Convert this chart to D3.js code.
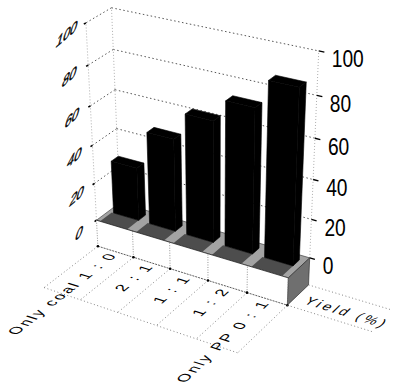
<!DOCTYPE html>
<html>
<head>
<meta charset="utf-8">
<script src="https://cdn.jsdelivr.net/npm/d3@7"></script>
<style>
  body { margin: 0; background: #fff; }
  svg { display: block; }
</style>
</head>
<body>
<svg id="chart" width="396" height="388"></svg>
<script>
// ---- data ----
const categories = ["Only coal 1 : 0", "2 : 1", "1 : 1", "1 : 2", "Only PP 0 : 1"];
const yieldValues = [28, 48, 62, 73, 87];
const zTicks = [0, 20, 40, 60, 80, 100];
const zTitle = "Yield (%)";

// ---- 3D frame ----
// Box units: x across the categories (0..1), y from back wall (0) to front (1),
// z from floor (0) to top (1). Screen positions of reference points of the box
// fix a perspective camera (3x4 projective matrix, least squares).
const boxRefs = [
  [0, 0, 1.0, 110, 9], [0, 0, 0.8, 113, 50], [0, 0, 0.6, 115, 89], [0, 0, 0.4, 117, 128],
  [0, 1, 1.0, 86, 23], [0, 1, 0.8, 88, 64], [0, 1, 0.6, 91, 106], [0, 1, 0.4, 92, 145],
  [0, 1, 0.2, 95, 183], [0, 1, 0.0, 97, 220],
  [1, 0, 1.0, 318, 52], [1, 0, 0.8, 318, 95], [1, 0, 0.6, 316, 138], [1, 0, 0.4, 313, 179],
  [1, 0, 0.2, 313, 219], [1, 1, 0.0, 287, 277],
  [0, 1, -0.145, 98, 247], [0.2, 1, -0.145, 133, 258], [0.4, 1, -0.145, 171, 268],
  [0.6, 1, -0.145, 208, 281], [0.8, 1, -0.145, 247, 293], [1, 1, -0.145, 287, 306],
  [1, 0, -0.145, 307, 285]
];

function solveLinear(M, v) {
  const n = v.length;
  const A = M.map((row, i) => [...row, v[i]]);
  for (let c = 0; c < n; c++) {
    let p = c;
    for (let r = c + 1; r < n; r++) if (Math.abs(A[r][c]) > Math.abs(A[p][c])) p = r;
    [A[c], A[p]] = [A[p], A[c]];
    for (let r = 0; r < n; r++) {
      if (r === c) continue;
      const f = A[r][c] / A[c][c];
      for (let k = c; k <= n; k++) A[r][k] -= f * A[c][k];
    }
  }
  return A.map((row, i) => row[n] / row[i]);
}

function fitCamera(refs) {
  const n = 11;
  const M = Array.from({ length: n }, () => new Array(n).fill(0));
  const v = new Array(n).fill(0);
  refs.forEach(([X, Y, Z, u, w]) => {
    const rows = [
      [[X, Y, Z, 1, 0, 0, 0, 0, -u * X, -u * Y, -u * Z], u],
      [[0, 0, 0, 0, X, Y, Z, 1, -w * X, -w * Y, -w * Z], w]
    ];
    rows.forEach(([r, t]) => {
      for (let i = 0; i < n; i++) {
        v[i] += r[i] * t;
        for (let j = 0; j < n; j++) M[i][j] += r[i] * r[j];
      }
    });
  });
  return solveLinear(M, v);
}

const cam = fitCamera(boxRefs);
function proj(X, Y, Z) {
  const w = cam[8] * X + cam[9] * Y + cam[10] * Z + 1;
  return [
    (cam[0] * X + cam[1] * Y + cam[2] * Z + cam[3]) / w,
    (cam[4] * X + cam[5] * Y + cam[6] * Z + cam[7]) / w
  ];
}

// ---- scales ----
const x = d3.scaleBand().domain(categories).range([0, 1]).paddingInner(0.3).paddingOuter(0.15);
const z = d3.scaleLinear().domain([0, 100]).range([0, 1]);
const step = x.step();
const slotStart = c => x(c) - step * x.paddingOuter();
const zBase = z(-14.5);          // bottom of the floor slab
const barBack = 0.2, barFront = 0.5;

const svg = d3.select("#chart");
const line = d3.line();
const poly = pts => line(pts.map(p => proj(...p))) + "Z";
const seg = (a, b) => line([proj(...a), proj(...b)]);

// text frame: baseline along direction base, glyph "up" along direction up (screen unit vectors)
function unit(p, q) {
  const dx = q[0] - p[0], dy = q[1] - p[1], L = Math.hypot(dx, dy);
  return [dx / L, dy / L];
}
function frame(pos, base, up, sx = 1) {
  return `matrix(${base[0] * sx},${base[1] * sx},${-up[0]},${-up[1]},${pos[0]},${pos[1]})`;
}

// ---- walls: gridlines and edges ----
const walls = svg.append("g");
zTicks.filter(t => t > 0).forEach(t => {
  const zz = z(t);
  walls.append("path").attr("d", seg([0, 0, zz], [1, 0, zz]))
    .attr("stroke", "#444").attr("stroke-width", 0.9).attr("stroke-dasharray", "1.5,2.5").attr("fill", "none");
  walls.append("path").attr("d", seg([0, 0, zz], [0, 1, zz]))
    .attr("stroke", "#444").attr("stroke-width", 0.9).attr("stroke-dasharray", "1.5,2.5").attr("fill", "none");
});
[[0, 0], [0, 1], [1, 0]].forEach(([ex, ey]) => {
  walls.append("path").attr("d", seg([ex, ey, 0], [ex, ey, 1]))
    .attr("stroke", "#999").attr("stroke-width", 0.8).attr("stroke-dasharray", "1,2").attr("fill", "none");
});

// ---- z axis ticks and labels ----
const axisG = svg.append("g").attr("font-family", "'Liberation Sans', Arial, sans-serif").attr("fill", "#000");
const leftBase = [0.766, -0.643], leftUp = [0.259, -0.966];
zTicks.forEach(t => {
  const zz = z(t);
  // left (front edge of side wall)
  axisG.append("path").attr("d", seg([0, 1, zz], [0, 1.08, zz])).attr("stroke", "#000").attr("stroke-width", 1.6);
  const lp = proj(0, 1.72, zz);
  axisG.append("text").text(t)
    .attr("transform", frame(lp, leftBase, leftUp, 0.9))
    .attr("font-size", 18).attr("text-anchor", "middle").attr("dominant-baseline", "central")
    .attr("stroke", "#000").attr("stroke-width", 0.5);
  // right (back edge of back wall)
  axisG.append("path").attr("d", seg([1, 0, zz], [1.025, 0, zz])).attr("stroke", "#000").attr("stroke-width", 1.4);
  const rp = proj(1, 0, zz);
  axisG.append("text").text(t)
    .attr("transform", `translate(${rp[0] + 13},${rp[1] + 8}) scale(0.8,1)`)
    .attr("font-size", 24).attr("dominant-baseline", "central");
});

// ---- floor slab ----
const floorG = svg.append("g");
floorG.append("path").attr("d", poly([[0, 0, 0], [1, 0, 0], [1, 1, 0], [0, 1, 0]]))
  .attr("fill", "#a3a3a3").attr("stroke", "#333").attr("stroke-width", 0.6);
categories.forEach(c => {
  floorG.append("path").attr("d", poly([[x(c) - step * 0.05, barFront, 0], [x(c) + x.bandwidth(), barFront, 0],
    [x(c) + x.bandwidth(), 1, 0], [x(c) - step * 0.05, 1, 0]]))
    .attr("fill", "#4d4d4d");
});
floorG.append("path").attr("d", poly([[0, 1, 0], [1, 1, 0], [1, 1, zBase], [0, 1, zBase]]))
  .attr("fill", "#fff");
floorG.append("path").attr("d", poly([[1, 0, 0], [1, 1, 0], [1, 1, zBase], [1, 0, zBase]]))
  .attr("fill", "#6f6f6f").attr("stroke", "#222").attr("stroke-width", 0.6);
categories.concat([null]).forEach(c => {
  const bx = c === null ? 1 : slotStart(c);
  floorG.append("path").attr("d", seg([bx, 1, zBase], [bx, 1, 0]))
    .attr("stroke", "#777").attr("stroke-width", 0.8).attr("stroke-dasharray", "1,1.5");
});
floorG.append("path").attr("d", seg([0, 1, 0], [1, 1, 0])).attr("stroke", "#222").attr("stroke-width", 0.8);
floorG.append("path").attr("d", seg([0, 1, zBase], [1, 1, zBase])).attr("stroke", "#333").attr("stroke-width", 0.8)
  .attr("stroke-dasharray", "2,1");

// ---- bars ----
const barsG = svg.append("g");
categories.forEach((c, i) => {
  const x0 = x(c), x1 = x0 + x.bandwidth(), zt = z(yieldValues[i]);
  const faces = [
    [[x0, barFront, 0], [x1, barFront, 0], [x1, barFront, zt], [x0, barFront, zt]],
    [[x1, barFront, 0], [x1, barBack, 0], [x1, barBack, zt], [x1, barFront, zt]],
    [[x0, barBack, zt], [x1, barBack, zt], [x1, barFront, zt], [x0, barFront, zt]]
  ];
  faces.forEach(f => barsG.append("path").attr("d", poly(f))
    .attr("fill", "#000").attr("stroke", "#000").attr("stroke-width", 0.6));
});

// ---- category label cells ----
const cellG = svg.append("g");
const cellLen = 2.2;
const bounds = categories.map(slotStart).concat([1]);
bounds.forEach(bx => {
  cellG.append("path").attr("d", seg([bx, 1, zBase], [bx, 1 + cellLen, zBase]))
    .attr("stroke", "#666").attr("stroke-width", 0.8).attr("stroke-dasharray", "1,2.5").attr("fill", "none");
  cellG.append("circle").attr("cx", proj(bx, 1, zBase)[0]).attr("cy", proj(bx, 1, zBase)[1]).attr("r", 1.3);
});
cellG.append("path").attr("d", seg([0, 1 + cellLen, zBase], [1, 1 + cellLen, zBase]))
  .attr("stroke", "#666").attr("stroke-width", 0.8).attr("stroke-dasharray", "1,2.5").attr("fill", "none");

const labelG = svg.append("g").attr("font-family", "'Liberation Sans', Arial, sans-serif").attr("fill", "#000");
categories.forEach(c => {
  const cx = slotStart(c) + step * 0.64;
  const p = proj(cx, 1.08, zBase);
  const base = unit(proj(cx, 1.3, zBase), proj(cx, 1.08, zBase));
  const up = unit(proj(cx, 1.08, zBase), proj(cx - 0.05, 1.08, zBase));
  labelG.append("text").text(c)
    .attr("transform", frame(p, base, up))
    .attr("font-size", 15).attr("letter-spacing", 2.3).attr("text-anchor", "end");
});

// ---- z title cell ----
[[1, 0], [1, 1]].forEach(([ex, ey]) => {
  cellG.append("path").attr("d", seg([ex, ey, zBase], [ex + 0.4, ey, zBase]))
    .attr("stroke", "#666").attr("stroke-width", 0.8).attr("stroke-dasharray", "1,2.5").attr("fill", "none");
});
{
  const p = proj(1.05, 0.75, zBase);
  const base = unit(proj(1.05, 0.75, zBase), proj(1.2, 0.75, zBase));
  const up = unit(proj(1.05, 0.75, zBase), proj(1.05, 0.5, zBase));
  labelG.append("text").text(zTitle)
    .attr("transform", frame(p, base, up))
    .attr("font-size", 14).attr("letter-spacing", 3.2);
}
</script>
</body>
</html>
